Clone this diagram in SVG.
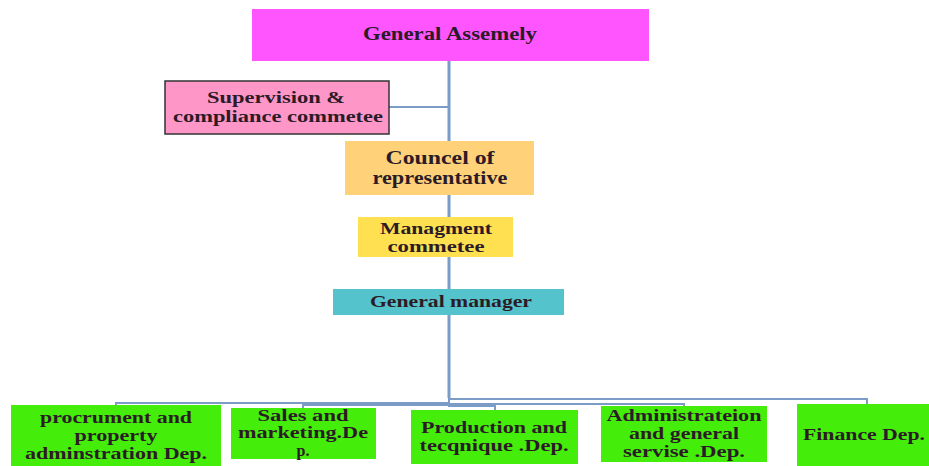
<svg xmlns="http://www.w3.org/2000/svg" width="929" height="466" viewBox="0 0 929 466">
<style>
text{font-family:"Liberation Serif","Times New Roman",serif;font-weight:bold;fill:#2b1b26;text-anchor:middle}
.t18{font-size:18px}
.t17{font-size:17px}
.t16{font-size:16px}
.c{fill:none;stroke:#7b9cc6;stroke-width:2}
.trunk{fill:none;stroke:#7b9cc6;stroke-width:3}
.g{fill:#44ee0a}
</style>
<rect width="929" height="466" fill="#ffffff"/>
<g id="connectors">
<path class="trunk" d="M449 61 V398"/>
<path class="c" d="M389 107 H449"/>
<path class="c" d="M449 395 V403 H116 V405"/>
<path class="c" d="M449 395 V405 H303 V408"/>
<path class="c" d="M449 395 V406 H495 V410"/>
<path class="c" d="M449 395 V404 H684 V406"/>
<path class="c" d="M449 395 V399 H867 V404"/>
</g>
<g id="general-assembly">
<rect x="252" y="9" width="397" height="52" fill="#ff55ff"/>
<text class="t18" x="450" y="40" textLength="174" lengthAdjust="spacingAndGlyphs">General Assemely</text>
</g>
<g id="supervision">
<rect x="165" y="81" width="224" height="53" fill="#ff96c8" stroke="#333" stroke-width="1.5"/>
<text class="t17" x="276" y="103" textLength="138" lengthAdjust="spacingAndGlyphs">Supervision &amp;</text>
<text class="t17" x="278" y="122" textLength="210" lengthAdjust="spacingAndGlyphs">compliance commetee</text>
</g>
<g id="councel">
<rect x="345" y="141" width="189" height="54" fill="#ffd27a"/>
<text class="t18" x="440" y="164" textLength="109" lengthAdjust="spacingAndGlyphs">Councel of</text>
<text class="t18" x="440" y="184" textLength="135" lengthAdjust="spacingAndGlyphs">representative</text>
</g>
<g id="management">
<rect x="358" y="217" width="155" height="40" fill="#ffe050"/>
<text class="t16" x="436" y="234" textLength="112" lengthAdjust="spacingAndGlyphs">Managment</text>
<text class="t16" x="436" y="252" textLength="97" lengthAdjust="spacingAndGlyphs">commetee</text>
</g>
<g id="general-manager">
<rect x="333" y="289" width="231" height="26" fill="#55c3cc"/>
<text class="t17" x="451" y="307" textLength="162" lengthAdjust="spacingAndGlyphs">General manager</text>
</g>
<g id="procurement">
<rect class="g" x="11" y="405" width="210" height="61"/>
<text class="t16" x="116" y="423" textLength="152" lengthAdjust="spacingAndGlyphs">procrument and</text>
<text class="t16" x="116" y="441" textLength="83" lengthAdjust="spacingAndGlyphs">property</text>
<text class="t16" x="116" y="459" textLength="182" lengthAdjust="spacingAndGlyphs">adminstration Dep.</text>
</g>
<g id="sales">
<rect class="g" x="231" y="408" width="145" height="51"/>
<text class="t16" x="303" y="421" textLength="91" lengthAdjust="spacingAndGlyphs">Sales and</text>
<text class="t16" x="303" y="438" textLength="130" lengthAdjust="spacingAndGlyphs">marketing.De</text>
<text class="t16" x="303" y="456">p.</text>
</g>
<g id="production">
<rect class="g" x="411" y="410" width="167" height="54"/>
<text class="t17" x="494" y="433" textLength="146" lengthAdjust="spacingAndGlyphs">Production and</text>
<text class="t17" x="494" y="451" textLength="149" lengthAdjust="spacingAndGlyphs">tecqnique .Dep.</text>
</g>
<g id="administration">
<rect class="g" x="601" y="406" width="166" height="56"/>
<text class="t16" x="684" y="421" textLength="155" lengthAdjust="spacingAndGlyphs">Administrateion</text>
<text class="t16" x="684" y="439" textLength="110" lengthAdjust="spacingAndGlyphs">and general</text>
<text class="t16" x="684" y="457" textLength="122" lengthAdjust="spacingAndGlyphs">servise .Dep.</text>
</g>
<g id="finance">
<rect class="g" x="797" y="404" width="132" height="62"/>
<text class="t17" x="864" y="440" textLength="122" lengthAdjust="spacingAndGlyphs">Finance Dep.</text>
</g>
</svg>
